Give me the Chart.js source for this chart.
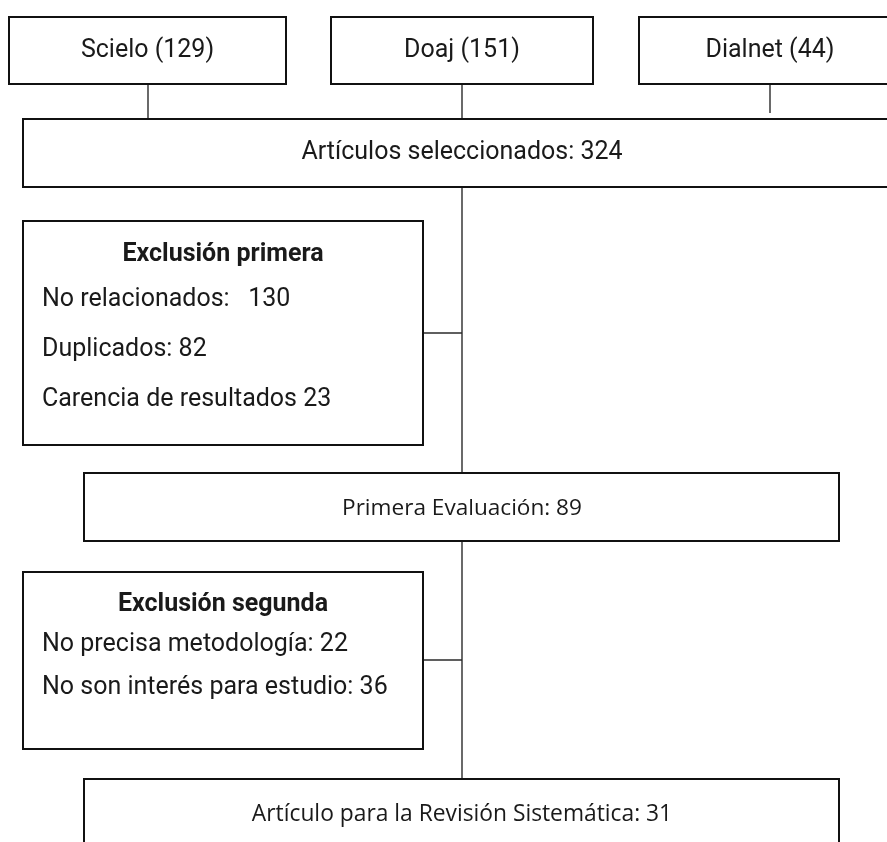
<!DOCTYPE html>
<html>
<head>
<meta charset="utf-8">
<script src="https://cdn.jsdelivr.net/npm/chart.js@4.4.0/dist/chart.umd.min.js"></script>
<style>
  body { margin: 0; background: #fff; }
  canvas { display: block; }
</style>
</head>
<body>
<canvas id="flow" width="887" height="842"></canvas>
<script>
// sources and counts
var sources = ["Scielo", "Doaj", "Dialnet"];
var sourceCounts = [129, 151, 44];

var selectedLabel = "Artículos seleccionados";
var selectedCount = 324;

var excl1Title = "Exclusión primera";
var excl1Reasons = ["No relacionados:  ", "Duplicados:", "Carencia de resultados"];
var excl1Counts = [130, 82, 23];

var firstEvalLabel = "Primera Evaluación";
var firstEvalCount = 89;

var excl2Title = "Exclusión segunda";
var excl2Reasons = ["No precisa metodología:", "No son interés para estudio:"];
var excl2Counts = [22, 36];

var finalLabel = "Artículo para la Revisión Sistemática";
var finalCount = 31;

// layout, in axis units (the axes span the page)
var srcBoxes = [[9, 286], [331, 593], [639, 895]];
var srcTop = 17, srcBottom = 84;
var srcLinkX = [148, 462, 770];
var srcLinkEnd = [119, 119, 113];
var spine = 462;
var boxSel = { x0: 23, x1: 895, y0: 119, y1: 187 };
var boxEx1 = { x0: 23, x1: 423, y0: 221, y1: 445, link: 333 };
var boxEval = { x0: 84, x1: 839, y0: 473, y1: 541 };
var boxEx2 = { x0: 23, x1: 423, y0: 572, y1: 749, link: 660 };
var boxFinal = { x0: 84, x1: 839, y0: 779, y1: 870 };

var roboto = "Roboto, 'Noto Sans', sans-serif";
var calibriLike = "'Open Sans', 'Noto Sans', sans-serif";

var flowPlugin = {
    id: 'flow',
    afterDraw: function (chart) {
        var c = chart.ctx;
        var sx = chart.scales.x, sy = chart.scales.y;
        function X(v) { return sx.getPixelForValue(v); }
        function Y(v) { return sy.getPixelForValue(v); }

        function line(x0, y0, x1, y1) {
            c.save();
            c.strokeStyle = '#2a2a2a';
            c.lineWidth = 1.4;
            c.beginPath();
            c.moveTo(X(x0), Y(y0));
            c.lineTo(X(x1), Y(y1));
            c.stroke();
            c.restore();
        }
        function box(b) {
            c.save();
            c.fillStyle = '#fff';
            c.strokeStyle = '#111';
            c.lineWidth = 2;
            var px = X(b.x0), py = Y(b.y0);
            var w = X(b.x1) - px, h = Y(b.y1) - py;
            c.fillRect(px, py, w, h);
            c.strokeRect(px, py, w, h);
            c.restore();
        }
        function text(s, x, y, font, align) {
            c.save();
            c.fillStyle = '#1a1a1a';
            c.font = font;
            c.textAlign = align || 'center';
            c.textBaseline = 'middle';
            c.fillText(s, X(x), Y(y));
            c.restore();
        }

        // connectors first, boxes drawn over them
        for (var i = 0; i < sources.length; i++) {
            line(srcLinkX[i], srcBottom, srcLinkX[i], srcLinkEnd[i]);
        }
        line(spine, boxSel.y1, spine, boxFinal.y0);
        line(boxEx1.x1, boxEx1.link, spine, boxEx1.link);
        line(boxEx2.x1, boxEx2.link, spine, boxEx2.link);

        for (var j = 0; j < sources.length; j++) {
            var b = { x0: srcBoxes[j][0], x1: srcBoxes[j][1], y0: srcTop, y1: srcBottom };
            box(b);
            var cx = j === 2 ? 770 : (b.x0 + b.x1) / 2;
            text(sources[j] + " (" + sourceCounts[j] + ")", cx, 51, "25px " + roboto);
        }

        box(boxSel);
        text(selectedLabel + ": " + selectedCount, 462, 153, "25px " + roboto);

        box(boxEx1);
        text(excl1Title, 223, 255, "bold 25px " + roboto);
        for (var k = 0; k < excl1Reasons.length; k++) {
            text(excl1Reasons[k] + " " + excl1Counts[k], 42, 300 + k * 50, "25px " + roboto, 'left');
        }

        box(boxEval);
        text(firstEvalLabel + ": " + firstEvalCount, 462, 509, "22.6px " + calibriLike);

        box(boxEx2);
        text(excl2Title, 223, 605, "bold 25px " + roboto);
        for (var m = 0; m < excl2Reasons.length; m++) {
            text(excl2Reasons[m] + " " + excl2Counts[m], 42, 645 + m * 43, "25px " + roboto, 'left');
        }

        box(boxFinal);
        text(finalLabel + ": " + finalCount, 462, 815, "22.8px " + calibriLike);
    }
};

var chart = new Chart(document.getElementById("flow"), {
    type: 'scatter',
    data: { datasets: [{ data: [], pointRadius: 0 }] },
    options: {
        responsive: false,
        animation: false,
        layout: { padding: 0 },
        plugins: { legend: { display: false }, tooltip: { enabled: false } },
        scales: {
            x: { type: 'linear', min: 0, max: 887, display: false },
            y: { type: 'linear', min: 0, max: 842, reverse: true, display: false }
        }
    },
    plugins: [flowPlugin]
});
</script>
</body>
</html>
